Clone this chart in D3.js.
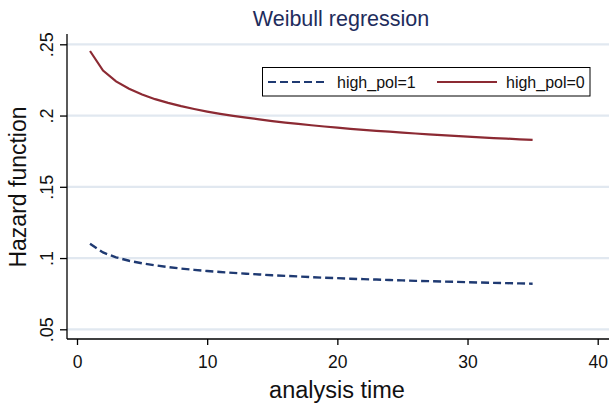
<!DOCTYPE html>
<html>
<head>
<meta charset="utf-8">
<script src="https://cdn.jsdelivr.net/npm/d3@7.9.0/dist/d3.min.js"></script>
<style>
  body { margin: 0; background: #fff; }
  svg { font-family: "Liberation Sans", Arial, sans-serif; display: block; }
</style>
</head>
<body>
<svg id="chart" width="609" height="405"></svg>
<script>
// analysis time, t = 1..35
const times = [1, 2, 3, 4, 5, 6, 7, 8, 9, 10, 11, 12, 13, 14, 15, 16, 17, 18,
  19, 20, 21, 22, 23, 24, 25, 26, 27, 28, 29, 30, 31, 32, 33, 34, 35];
// hazard, high_pol=1
const hazardHigh1 = [.1100, .1039, .1005, .0981, .0963, .0949, .0937, .0926, .0917,
  .0909, .0902, .0896, .0890, .0885, .0879, .0875, .0871, .0866, .0862, .0859, .0855,
  .0852, .0849, .0846, .0843, .0840, .0838, .0835, .0833, .0831, .0828, .0826, .0824,
  .0822, .0820];
// hazard, high_pol=0
const hazardHigh0 = [.2453, .2316, .2240, .2188, .2148, .2115, .2089, .2066, .2046,
  .2028, .2012, .1998, .1985, .1973, .1961, .1951, .1941, .1932, .1923, .1915, .1907,
  .1900, .1893, .1887, .1880, .1874, .1868, .1863, .1857, .1852, .1847, .1842, .1838,
  .1833, .1829];
const xTicks = [0, 10, 20, 30, 40];
const yTicks = [.05, .1, .15, .2, .25];
const yTickLabels = ['.05', '.1', '.15', '.2', '.25'];
const seriesNames = ['high_pol=1', 'high_pol=0'];

const svg = d3.select('#chart');
const plotLeft = 67, plotRight = 609, plotTop = 34, plotBottom = 339;

let x = d3.scaleLinear().domain([0, 40]).range([77, 597.7]);
let y = d3.scaleLinear().domain([.05, .25]).range([329.3, 44.3]);

// gridlines
svg.append('g')
  .selectAll('line')
  .data(yTicks)
  .join('line')
  .attr('x1', plotLeft).attr('x2', plotRight)
  .attr('y1', (d) => y(d)).attr('y2', (d) => y(d))
  .attr('stroke', '#e1e8f0')
  .attr('stroke-width', 2.2);

// y axis
let yAxis = d3.axisLeft(y).tickValues(yTicks)
  .tickFormat((d, i) => yTickLabels[i]).tickSize(7).tickPadding(4);
let gy = svg.append('g').attr('transform', `translate(${plotLeft},0)`).call(yAxis);
gy.select('.domain').attr('d', `M0,${plotTop}V${plotBottom}`).attr('stroke', '#000').attr('stroke-width', 1.3);
gy.selectAll('.tick line').attr('stroke', '#000').attr('stroke-width', 1.3);
gy.selectAll('.tick text')
  .attr('font-size', 18)
  .attr('fill', '#111')
  .attr('text-anchor', 'middle')
  .attr('x', 0).attr('dy', 0)
  .attr('transform', 'translate(-14,0) rotate(-90)');

// x axis
let xAxis = d3.axisBottom(x).tickValues(xTicks).tickSize(6).tickPadding(9);
let gx = svg.append('g').attr('transform', `translate(0,${plotBottom})`).call(xAxis);
gx.select('.domain').attr('d', `M${plotLeft},0H${plotRight}`).attr('stroke', '#000').attr('stroke-width', 1.3);
gx.selectAll('.tick line').attr('stroke', '#000').attr('stroke-width', 1.3);
gx.selectAll('.tick text').attr('font-size', 17.5).attr('fill', '#111')
  .attr('dy', 0).attr('y', 28.5);

// curves
let line = d3.line()
  .x((d, i) => x(times[i]))
  .y((d) => y(d));

svg.append('path')
  .attr('d', line(hazardHigh0))
  .attr('fill', 'none')
  .attr('stroke', '#8c2a33')
  .attr('stroke-width', 2.2);

svg.append('path')
  .attr('d', line(hazardHigh1))
  .attr('fill', 'none')
  .attr('stroke', '#1f3a72')
  .attr('stroke-width', 2.4)
  .attr('stroke-dasharray', '8,4');

// titles
svg.append('text')
  .attr('x', 341).attr('y', 26)
  .attr('text-anchor', 'middle')
  .attr('font-size', 21.5)
  .attr('fill', '#1e2c5c')
  .text('Weibull regression');

svg.append('text')
  .attr('x', 337).attr('y', 398)
  .attr('text-anchor', 'middle')
  .attr('font-size', 23.5)
  .attr('fill', '#111')
  .text('analysis time');

svg.append('text')
  .attr('transform', 'translate(26,187) rotate(-90)')
  .attr('text-anchor', 'middle')
  .attr('font-size', 23)
  .attr('fill', '#111')
  .text('Hazard function');

// legend
let legend = svg.append('g');
legend.append('rect')
  .attr('x', 262.5).attr('y', 67.5)
  .attr('width', 327.5).attr('height', 28.5)
  .attr('fill', '#fff')
  .attr('stroke', '#000')
  .attr('stroke-width', 1);

const legendItems = [
  { name: seriesNames[0], color: '#1f3a72', dash: '8,4', x: 268 },
  { name: seriesNames[1], color: '#8c2a33', dash: null, x: 437 },
];
legendItems.forEach((d) => {
  legend.append('line')
    .attr('x1', d.x).attr('x2', d.x + 60)
    .attr('y1', 82).attr('y2', 82)
    .attr('stroke', d.color)
    .attr('stroke-width', 2.2)
    .attr('stroke-dasharray', d.dash);
  legend.append('text')
    .attr('x', d.x + 69).attr('y', 87.5)
    .attr('font-size', 16)
    .attr('fill', '#111')
    .text(d.name);
});
</script>
</body>
</html>
